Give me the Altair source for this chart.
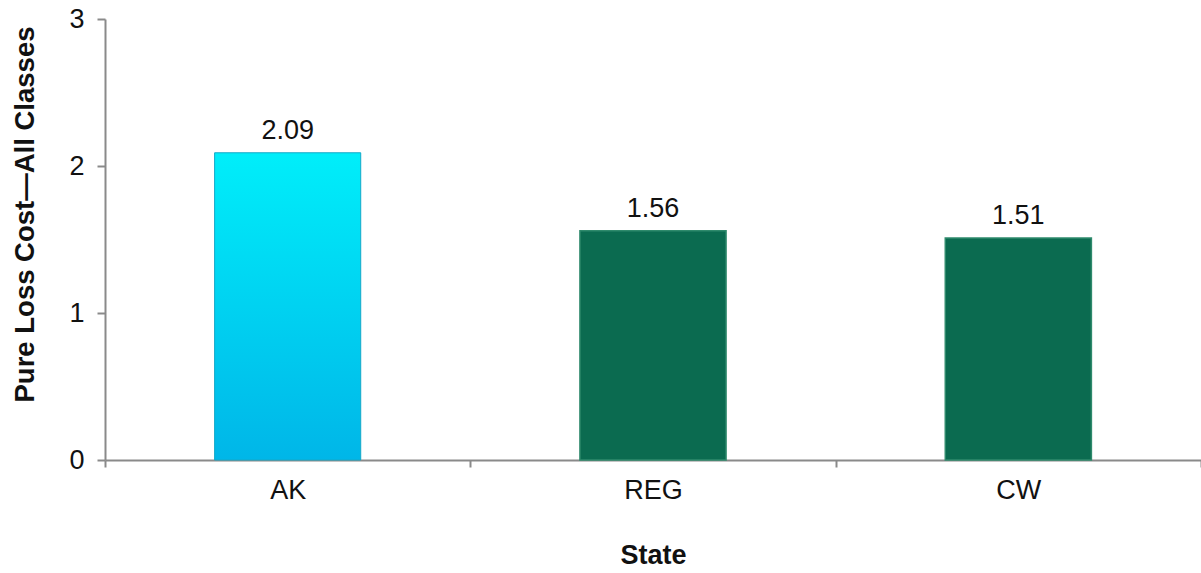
import altair as alt
import pandas as pd

states = ["AK", "REG", "CW"]
values = [2.09, 1.56, 1.51]
value_labels = ["2.09", "1.56", "1.51"]

df = pd.DataFrame({"state": states, "value": values, "label": value_labels})

FONT = "Liberation Sans"
AXIS_GREY = "#8a8a8a"

x_enc = alt.X(
    "state:N",
    sort=states,
    scale=alt.Scale(domain=states, paddingInner=0, paddingOuter=0),
    axis=alt.Axis(
        title="State",
        titleFont=FONT,
        titleFontSize=27,
        titleFontWeight="bold",
        titleColor="#111111",
        titleY=95,
        titleBaseline="middle",
        labelFont=FONT,
        labelFontSize=27,
        labelColor="#111111",
        labelPadding=10,
        labelAngle=0,
        tickBand="extent",
        tickSize=7,
        tickColor=AXIS_GREY,
        tickWidth=2,
        domainColor=AXIS_GREY,
        domainWidth=2,
        grid=False,
    ),
)

y_enc = alt.Y(
    "value:Q",
    scale=alt.Scale(domain=[0, 3], nice=False),
    axis=alt.Axis(
        title="Pure Loss Cost\u2014All Classes",
        titleFont=FONT,
        titleFontSize=27.5,
        titleFontWeight="bold",
        titleColor="#111111",
        titleX=-80,
        titleY=195,
        titleBaseline="middle",
        titleAngle=-90,
        values=[0, 1, 2, 3],
        format="d",
        labelFont=FONT,
        labelFontSize=27,
        labelColor="#111111",
        labelPadding=13,
        tickSize=8,
        tickColor=AXIS_GREY,
        tickWidth=2,
        domainColor=AXIS_GREY,
        domainWidth=2,
        grid=False,
    ),
)

base = alt.Chart(df).encode(x=x_enc, y=y_enc)

ak_bar = base.transform_filter("datum.state == 'AK'").mark_bar(
    width=alt.RelativeBandSize(0.4),
    color=alt.Gradient(
        gradient="linear",
        stops=[
            alt.GradientStop(color="#00eefa", offset=0),
            alt.GradientStop(color="#00b6e8", offset=1),
        ],
        x1=0, x2=0, y1=0, y2=1,
    ),
    stroke="#14a8c8",
    strokeWidth=1,
)

green_bars = base.transform_filter("datum.state != 'AK'").mark_bar(
    width=alt.RelativeBandSize(0.4),
    color="#0b6b50",
    stroke="#2f8a6c",
    strokeWidth=1.5,
)

labels = base.mark_text(
    font=FONT,
    fontSize=27,
    color="#111111",
    baseline="alphabetic",
    dy=-14,
).encode(text="label:N")

chart = (
    alt.layer(ak_bar, green_bars, labels)
    .properties(
        width=1096,
        height=441,
        autosize=alt.AutoSizeParams(type="none"),
        padding={"left": 105, "top": 19, "right": 0, "bottom": 113},
        background="white",
    )
    .configure_view(stroke=None)
)

chart.save("out.html", embed_options={"renderer": "svg", "actions": False})
